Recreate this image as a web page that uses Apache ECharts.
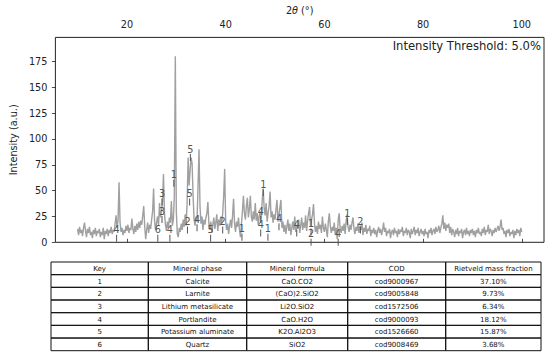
<!DOCTYPE html>
<html>
<head>
<meta charset="utf-8">
<script src="https://cdn.jsdelivr.net/npm/echarts@6/dist/echarts.min.js"></script>
<style>
html,body{margin:0;padding:0;background:#fff;}
#chart{width:550px;height:357px;}
</style>
</head>
<body>
<div id="chart"></div>
<script>
// ---- Data ----
const thetaStart = 10.0;
const thetaStep = 0.2;
const int10 = [13,7,15,9,12,6,14,19,11,5, 13,9,15,7,10,4,12,8,14,6, 11,9,13,5,10,7,14,3,11,8, 13,6,12,9,15,8,12,10,18,26, 14,22,58,19,10,14,7,12,9,16];
const int20 = [11,17,9,14,12,23,13,8,16,10, 18,12,20,14,21,17,26,35,15,3, 12,19,9,17,13,22,30,52,20,12, 19,25,16,38,24,30,40,66,28,17, 11,20,14,24,19,40,16,22,45,180];
const int30 = [30,8,5,14,10,18,12,22,15,27, 16,40,82,55,70,82,76,45,22,16, 25,20,55,90,35,18,25,12,22,17, 24,28,39,18,12,20,9,17,24,13, 19,27,11,22,16,25,18,28,45,71];
const int40 = [20,12,18,8,16,22,14,26,42,18, 10,20,15,24,12,5,18,30,45,28, 22,35,43,24,32,45,25,20,30,22, 38,21,28,17,25,30,22,40,52,33, 26,38,20,28,35,49,24,30,19,27];
const int50 = [22,32,41,20,27,34,41,14,20,10, 17,8,15,22,11,18,7,14,20,12, 25,10,17,13,22,9,16,24,12,19, 14,26,11,21,28,34,15,22,27,37, 18,10,16,8,20,13,17,9,25,14];
const int60 = [10,18,12,5,20,28,16,9,15,11, 19,7,14,3,22,28,13,9,16,11, 18,8,20,27,15,10,17,12,19,24, 13,8,15,11,18,9,16,12,19,7, 14,10,17,8,13,11,16,6,12,9];
const int70 = [14,8,12,5,11,15,9,13,7,12, 19,10,14,6,11,9,13,4,10,12, 7,14,9,11,5,13,8,12,10,15, 6,11,9,14,7,12,10,4,13,8, 11,15,7,12,9,14,6,10,13,8];
const int80 = [11,6,13,8,10,4,12,9,14,7, 11,13,8,15,10,12,16,9,14,18, 26,13,19,11,17,14,18,9,15,7, 13,10,5,12,8,14,6,11,9,13, 4,10,12,7,14,8,11,6,12,9];
const int90 = [13,7,11,5,12,9,14,8,10,6, 13,9,15,7,12,10,17,8,13,11, 6,12,9,14,10,13,16,11,15,22, 12,14,8,11,5,12,9,13,6,10, 8,12,4,11,7,13,9,12,6,14,10];

// peak key markers
const markTheta = [17.9, 26.25, 27.1, 27.1, 28.7, 29.5, 32.26, 32.85, 32.7, 34.2, 36.95, 39.4, 43.3, 47.1, 47.1, 47.62, 48.56, 50.8, 54.4, 57.3, 57.3, 62.8, 64.65, 67.3];
const markInt   = [4, 4, 39, 22, 4, 57, 12, 82, 39, 14, 4, 12, 5, 22, 9, 48, 5, 15, 9, 10, 0, 0, 20, 12];
const markKey   = ['4','6','3','3','4','1','2','5','5','4','5','2','1','4','4','1','1','4','4','1','2','4','1','2'];

const xTicks = [20, 40, 60, 80, 100];
const yTicks = [0, 25, 50, 75, 100, 125, 150, 175];

const tableHeader = ['Key', 'Mineral phase', 'Mineral formula', 'COD', 'Rietveld mass fraction'];
const tableKeys = ['1', '2', '3', '4', '5', '6'];
const tablePhases = ['Calcite', 'Larnite', 'Lithium metasilicate', 'Portlandite', 'Potassium aluminate', 'Quartz'];
const tableFormulas = ['CaO.CO2', '(CaO)2.SiO2', 'Li2O.SiO2', 'CaO.H2O', 'K2O.Al2O3', 'SiO2'];
const tableCOD = ['cod9000967', 'cod9005848', 'cod1572506', 'cod9000093', 'cod1526660', 'cod9008469'];
const tableFractions = ['37.10%', '9.73%', '6.34%', '18.12%', '15.87%', '3.68%'];

// ---- Build ----
const FONT = 'DejaVu Sans';
const MARK_COLOR = '#555555';
const intensities = [].concat(int10, int20, int30, int40, int50, int60, int70, int80, int90);
const lineData = intensities.map((v, i) => [+(thetaStart + i * thetaStep).toFixed(2), v]);
const markData = markTheta.map((t, i) => [t, markInt[i], i]);

const chart = echarts.init(document.getElementById('chart'), null, { renderer: 'svg' });

// table graphic
const colX = [51, 148.3, 246.7, 347.7, 445.7, 541];
const rowY0 = 262, rowH = 12.67;
const rows = [tableHeader].concat(tableKeys.map((k, i) => [k, tablePhases[i], tableFormulas[i], tableCOD[i], tableFractions[i]]));
const graphics = [];
rows.forEach((row, r) => {
  row.forEach((cell, c) => {
    const x0 = colX[c], x1 = colX[c + 1];
    const y0 = rowY0 + r * rowH;
    graphics.push({
      type: 'rect', silent: true,
      shape: { x: x0, y: y0, width: x1 - x0, height: rowH },
      style: { fill: 'none', stroke: '#111', lineWidth: 1 }
    });
    graphics.push({
      type: 'text', silent: true,
      x: (x0 + x1) / 2, y: y0 + rowH / 2 + 0.5,
      style: { text: cell, fill: '#111', font: '7px "' + FONT + '"', align: 'center', verticalAlign: 'middle', textAlign: 'center', textVerticalAlign: 'middle' }
    });
  });
});
graphics.push({
  type: 'text', silent: true, x: 541, y: 46,
  style: { text: 'Intensity Threshold: 5.0%', fill: '#222', font: '11.6px "' + FONT + '"', align: 'right', verticalAlign: 'middle', textAlign: 'right', textVerticalAlign: 'middle' }
});

const option = {
  animation: false,
  backgroundColor: '#fff',
  textStyle: { fontFamily: FONT },
  grid: { left: 51, right: 6, top: 37, height: 205.3, show: true, borderColor: '#222', borderWidth: 1, backgroundColor: 'transparent' },
  xAxis: {
    type: 'value', position: 'top', min: 5.5, max: 104.5,
    name: '2{i|θ} (°)', nameLocation: 'middle', nameGap: 22,
    nameTextStyle: { fontFamily: FONT, fontSize: 9.7, color: '#222', rich: { i: { fontFamily: FONT, fontStyle: 'italic', fontSize: 9.7, color: '#222' } } },
    axisLine: { show: false },
    splitLine: { show: false },
    axisTick: { show: true, inside: false, length: 3.5, lineStyle: { color: '#222', width: 0.8 }, customValues: xTicks },
    axisLabel: { fontFamily: FONT, fontSize: 9.7, color: '#222', margin: 7.5, customValues: xTicks }
  },
  yAxis: {
    type: 'value', min: 0, max: 198.2,
    name: 'Intensity (a.u.)', nameLocation: 'middle', nameGap: 35.5,
    nameTextStyle: { fontFamily: FONT, fontSize: 9.7, color: '#222' },
    axisLine: { show: false },
    splitLine: { show: false },
    axisTick: { show: true, inside: false, length: 3.5, lineStyle: { color: '#222', width: 0.8 }, customValues: yTicks },
    axisLabel: { fontFamily: FONT, fontSize: 9.7, color: '#222', margin: 8, customValues: yTicks }
  },
  series: [
    {
      type: 'line', data: lineData, showSymbol: false, symbol: 'none', sampling: 'none',
      lineStyle: { color: '#a0a0a0', width: 1.4 }, z: 2, silent: true
    },
    {
      type: 'custom', data: markData, z: 3, silent: true, clip: false,
      encode: { x: 0, y: 1 },
      renderItem: function (params, api) {
        const pt = api.coord([api.value(0), api.value(1)]);
        const k = markKey[api.value(2)];
        return {
          type: 'group',
          children: [
            { type: 'rect', shape: { x: pt[0] - 0.5, y: pt[1] - 3.5, width: 1, height: 7 }, style: { fill: MARK_COLOR } },
            { type: 'text', x: pt[0], y: pt[1] - 3.5,
              style: { text: k, fill: MARK_COLOR, font: '9.7px "' + FONT + '"', align: 'center', verticalAlign: 'bottom', textAlign: 'center', textVerticalAlign: 'bottom' } }
          ]
        };
      }
    }
  ],
  graphic: graphics
};
chart.setOption(option);
</script>
</body>
</html>
